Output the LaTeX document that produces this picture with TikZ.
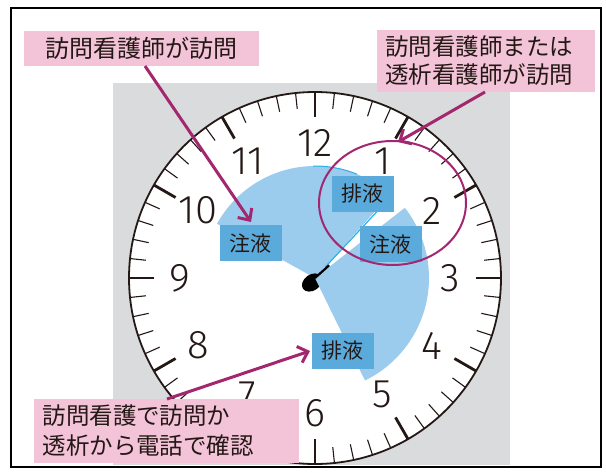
\documentclass[tikz,border=0pt]{standalone}
\usepackage{fontspec}
\setmainfont{Noto Sans CJK JP}
\newfontfamily\numfont{Fira Sans Light}
\usetikzlibrary{arrows.meta}
\definecolor{pinkbox}{HTML}{F3C4D8}
\definecolor{mag}{HTML}{A3276F}
\definecolor{graybg}{HTML}{DADBDD}
\definecolor{wedgeblue}{HTML}{9BCCED}
\definecolor{labelblue}{HTML}{5AAADC}
\definecolor{handcyan}{HTML}{29B0E6}
\definecolor{ink}{HTML}{231815}
\tikzset{
  majortick/.style={line width=2.8pt, ink},
  minortick/.style={line width=1.1pt, ink},
  numeral/.style={font=\numfont\fontsize{40}{40}\selectfont, text=ink, inner sep=0pt},
  wedge/.style={fill=wedgeblue},
  bluelabel/.style={fill=labelblue, text=ink, minimum width=62pt, minimum height=36pt, inner sep=0pt, font=\fontsize{21}{21}\selectfont},
  callout/.style={fill=pinkbox, text=ink, inner ysep=3pt, inner xsep=8pt, align=left, font=\fontsize{23.5}{28}\selectfont},
  arr/.style={draw=mag, line width=3pt, -{Straight Barb[length=9pt,width=17pt]}},
  ring/.style={draw=mag, line width=2pt}
}
\begin{document}
\begin{tikzpicture}[x=1pt,y=-1pt]
\useasboundingbox (0,0) rectangle (606,472);
\fill[white] (0,0) rectangle (606,472);
\draw[line width=1.5pt] (11,8) rectangle (601,467);
\fill[graybg] (113,83) rectangle (510,465);
\begin{scope}[shift={(315,278)}, yscale=-1]
  \fill[white] (0,0) circle[radius=186];
  \foreach \i in {0,...,59} {
    \pgfmathtruncatemacro\mm{mod(\i,5)}
    \ifnum\mm=0
      \draw[majortick] ({90-6*\i}:186) -- ({90-6*\i}:161);
    \else
      \draw[minortick] ({90-6*\i}:186) -- ({90-6*\i}:170);
    \fi
  }
  \draw[line width=1.8pt, ink] (0,0) circle[radius=186];
  \foreach \k in {1,...,12} {
    \node[numeral] (n\k) at ({90-30*\k}:135) {\k};
  }
  \fill[wedge] (0,0) -- (48:112) arc[start angle=48, end angle=151, radius=112] -- cycle;
  \draw[handcyan, line width=1pt] (91:112) arc[start angle=91, end angle=68, radius=112];
  \fill[black, rotate=-35] (-5,-2) ellipse[x radius=11, y radius=8];
  \fill[wedge] (0,0) -- (38:114) arc[start angle=38, end angle=-64, radius=114] -- cycle;
  \draw[handcyan, line width=1.2pt] (47:15) -- (47:95);
  \draw[black, line width=2.2pt] (0,0) -- (42:19);
\end{scope}
\node[bluelabel] (l1) at (250.5,243) {注液};
\node[bluelabel] (l2) at (362.5,194) {排液};
\node[bluelabel] (l3) at (390.5,244) {注液};
\node[bluelabel] (l4) at (342.5,350.5) {排液};
\draw[ring] (392.5,203) ellipse[x radius=73.5, y radius=62];
\node[callout, font=\fontsize{24}{28}\selectfont, minimum width=235pt, minimum height=35pt, inner xsep=0pt, align=center] (b1) at (141.5,48.5) {訪問看護師が訪問};
\node[callout, text width=202pt, minimum height=62pt] (b2) at (486,61) {訪問看護師または\\透析看護師が訪問};
\node[callout, text width=247pt, minimum height=64pt, font=\fontsize{23.5}{30}\selectfont, inner xsep=9pt] (b3) at (166,431) {訪問看護で訪問か\\透析から電話で確認};
\coordinate (a1s) at (145,66);
\coordinate (a1e) at (251,222);
\coordinate (a2s) at (485,92);
\coordinate (a2e) at (398,142);
\coordinate (a3s) at (167,399);
\coordinate (a3e) at (310,351);
\draw[arr] (a1s) -- (a1e);
\draw[arr] (a2s) -- (a2e);
\draw[arr] (a3s) -- (a3e);
\end{tikzpicture}
\end{document}
